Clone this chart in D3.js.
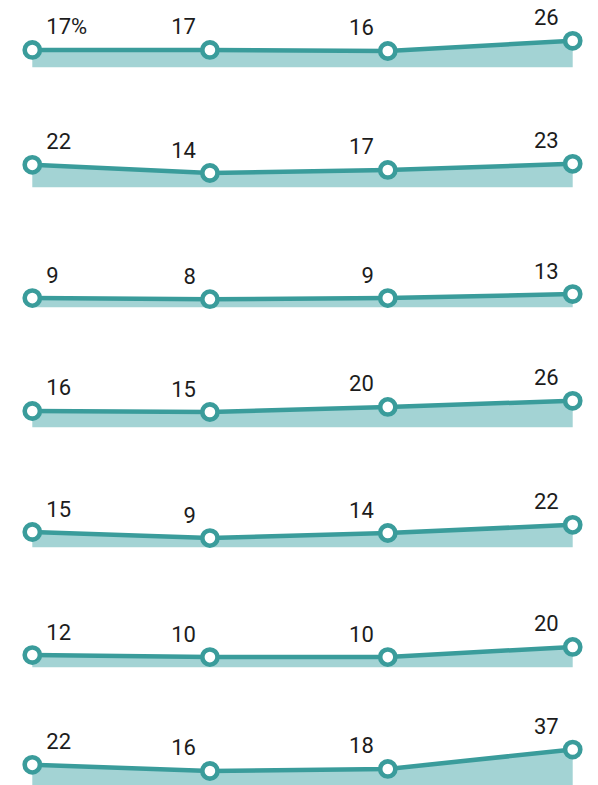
<!DOCTYPE html>
<html><head><meta charset="utf-8">
<script src="https://cdn.jsdelivr.net/npm/d3@7"></script>
<style>
html,body{margin:0;padding:0;background:#fff;overflow:hidden;}
svg{display:block;}
</style></head>
<body>
<div id="chart"></div>
<script>
const periods = ["2013-06", "2015-06", "2017-06", "2019-07"];
const row1 = [17, 17, 16, 26];
const row2 = [22, 14, 17, 23];
const row3 = [9, 8, 9, 13];
const row4 = [16, 15, 20, 26];
const row5 = [15, 9, 14, 22];
const row6 = [12, 10, 10, 20];
const row7 = [22, 16, 18, 37];
const rows = [row1, row2, row3, row4, row5, row6, row7];
const firstSuffix = "%";

const W = 598, H = 785;
const parse = d3.timeParse("%Y-%m");
const dates = periods.map(parse);

const svg = d3.select("#chart").append("svg").attr("width", W).attr("height", H);

const x = d3.scaleTime().domain(d3.extent(dates)).range([32.3, 572.7]);
const rowScale = d3.scaleLinear().domain([0, 1]).range([67.3, 187.3]);
const yPx = d3.scaleLinear().domain([0, 10]).range([0, 10.2]);

const lineColor = "#3a9c9b", areaColor = "#a3d3d4";

rows.forEach((vals, i) => {
  const base = rowScale(i);
  const y = v => base - yPx(v);
  const data = vals.map((v, j) => ({d: dates[j], v}));
  const g = svg.append("g");
  g.append("path").datum(data)
    .attr("d", d3.area().x(p => x(p.d)).y0(base).y1(p => y(p.v)))
    .attr("fill", areaColor);
  g.append("path").datum(data)
    .attr("d", d3.line().x(p => x(p.d)).y(p => y(p.v)))
    .attr("fill", "none").attr("stroke", lineColor).attr("stroke-width", 4.5);
  g.selectAll("circle").data(data).join("circle")
    .attr("cx", p => x(p.d)).attr("cy", p => y(p.v)).attr("r", 7.6)
    .attr("fill", "#fff").attr("stroke", lineColor).attr("stroke-width", 4.6);
  g.selectAll("text").data(data).join("text")
    .attr("x", (p, j) => j === 0 ? x(p.d) + 14 : x(p.d) - 14)
    .attr("y", p => y(p.v) - 15.5)
    .attr("text-anchor", (p, j) => j === 0 ? "start" : "end")
    .attr("font-family", "Roboto, 'Open Sans', sans-serif")
    .attr("font-weight", 400)
    .attr("font-size", 22).attr("fill", "#1c1c1c")
    .text((p, j) => (i === 0 && j === 0) ? p.v + firstSuffix : p.v);
});
</script>
</body></html>
